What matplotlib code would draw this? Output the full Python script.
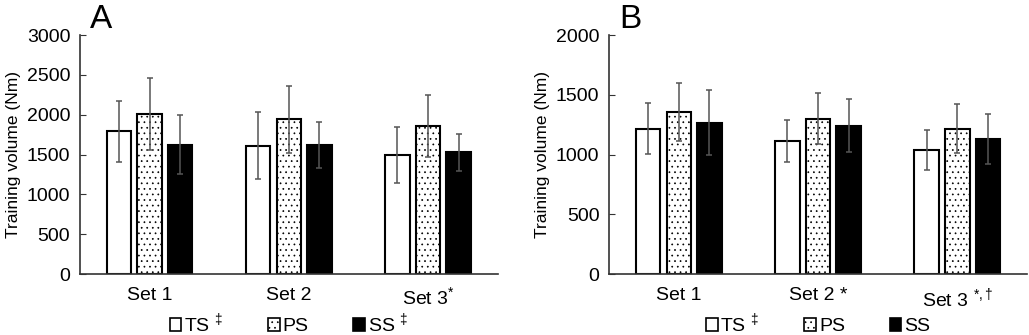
import numpy as np
import matplotlib.pyplot as plt
from matplotlib.patches import Patch

plt.rcParams['font.family'] = ['Liberation Sans', 'DejaVu Sans']
plt.rcParams['mathtext.fontset'] = 'custom'
plt.rcParams['mathtext.rm'] = 'Liberation Sans'
plt.rcParams['mathtext.it'] = 'Liberation Sans'
plt.rcParams['hatch.linewidth'] = 0.5
plt.rcParams['hatch.color'] = '#444444'

grupos = ['TS', 'PS', 'SS']

# painel A
sets_a = ['Set 1', 'Set 2', r'Set 3$^{*}$']
media_a = {'TS': [1790, 1610, 1493], 'PS': [2008, 1945, 1861], 'SS': [1622, 1622, 1527]}
dp_a = {'TS': [385, 420, 350], 'PS': [450, 420, 390], 'SS': [370, 285, 230]}
leg_a = [r'TS $^{\ddag}$', 'PS', r'SS $^{\ddag}$']

# painel B
sets_b = ['Set 1', 'Set 2 *', r'Set 3 $^{*,\dag}$']
media_b = {'TS': [1217, 1114, 1039], 'PS': [1354, 1298, 1217], 'SS': [1267, 1240, 1128]}
dp_b = {'TS': [215, 178, 165], 'PS': [242, 213, 205], 'SS': [275, 223, 209]}
leg_b = [r'TS $^{\ddag}$', 'PS', 'SS']

estilos = {'TS': dict(facecolor='white', hatch=None),
           'PS': dict(facecolor='white', hatch='...'),
           'SS': dict(facecolor='black', hatch=None)}

fig = plt.figure(figsize=(10.29, 3.35), dpi=100)
ax_a = fig.add_axes([0.0777, 0.182, 0.406, 0.7135])
ax_b = fig.add_axes([0.592, 0.182, 0.406, 0.7135])


def painel(ax, sets, media, dp, ymax, legendas, letra):
    x = np.arange(len(sets))
    w = 0.176
    off = 0.22
    handles = []
    for i, g in enumerate(grupos):
        ax.bar(x + (i - 1) * off, media[g], w, yerr=dp[g],
               edgecolor='black', linewidth=1.5, zorder=2,
               error_kw=dict(ecolor='#555555', elinewidth=1.1, capsize=2.5, capthick=1.1, zorder=3),
               **estilos[g])
        handles.append(Patch(edgecolor='black', linewidth=1.2, **estilos[g]))
    ax.set_xlim(-0.5, 2.5)
    ax.set_ylim(0, ymax)
    ax.set_yticks(np.arange(0, ymax + 1, 500))
    ax.set_xticks(x)
    ax.set_xticklabels(sets, fontsize=14)
    ax.tick_params(axis='y', direction='in', length=4, labelsize=14, pad=7, color='#333333')
    ax.tick_params(axis='x', length=0, pad=9)
    for s in ['top', 'right']:
        ax.spines[s].set_visible(False)
    for s in ['left', 'bottom']:
        ax.spines[s].set_color('#333333')
        ax.spines[s].set_linewidth(1.2)
    ax.set_ylabel('Training volume (Nm)', fontsize=12.5, labelpad=4)
    ax.legend(handles, legendas, ncol=3, loc='center', bbox_to_anchor=(0.5, -0.207),
              frameon=False, fontsize=14, handlelength=0.6, handleheight=0.6,
              handletextpad=0.15, columnspacing=2.3, borderaxespad=0, borderpad=0)
    ax.text(0.025, 1.03, letra, transform=ax.transAxes, fontsize=24, va='baseline', ha='left')


painel(ax_a, sets_a, media_a, dp_a, 3000, leg_a, 'A')
painel(ax_b, sets_b, media_b, dp_b, 2000, leg_b, 'B')

plt.savefig('out.png', dpi=100)
